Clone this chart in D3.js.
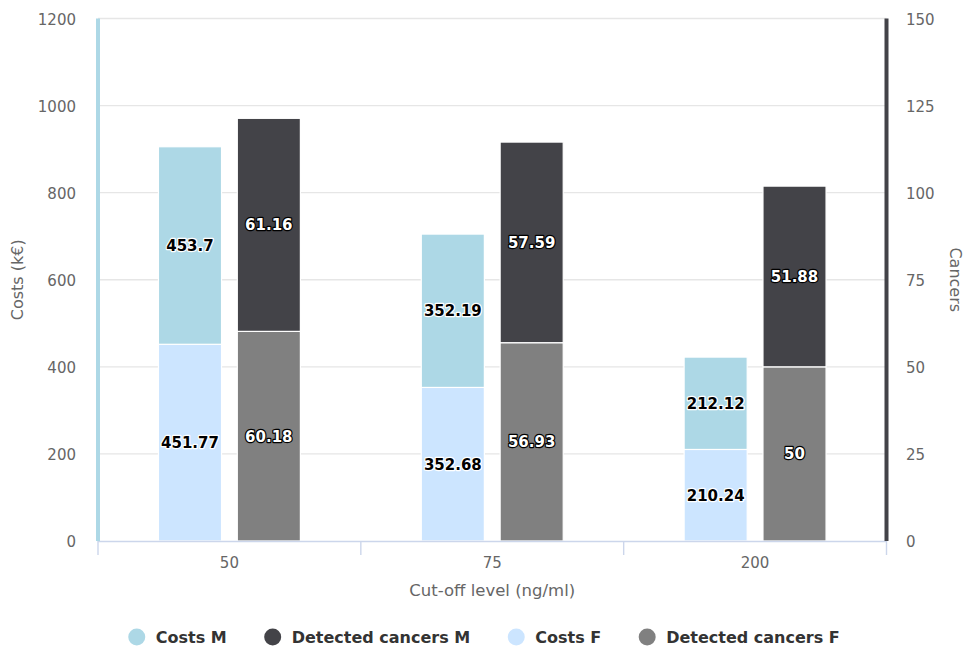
<!DOCTYPE html>
<html>
<head>
<meta charset="utf-8">
<script src="https://cdn.jsdelivr.net/npm/d3@7"></script>
<style>
  html, body { margin: 0; padding: 0; background: #fff; }
  svg { display: block; font-family: "DejaVu Sans", Verdana, sans-serif; }
</style>
</head>
<body>
<svg id="chart" width="965" height="646"></svg>
<script>
'use strict';

var categories = ['50', '75', '200'];
var costsM = [453.7, 352.19, 212.12];
var costsF = [451.77, 352.68, 210.24];
var cancersM = [61.16, 57.59, 51.88];
var cancersF = [60.18, 56.93, 50];
var costTicks = [0, 200, 400, 600, 800, 1000, 1200];
var cancerTicks = [0, 25, 50, 75, 100, 125, 150];

// series in legend order; stack = which column, axis = which y scale
var series = [
  {name: 'Costs M', data: costsM, stack: 'costs', color: '#add8e6', dark: false},
  {name: 'Detected cancers M', data: cancersM, stack: 'cancers', color: '#434348', dark: true},
  {name: 'Costs F', data: costsF, stack: 'costs', color: '#cce5ff', dark: false},
  {name: 'Detected cancers F', data: cancersF, stack: 'cancers', color: '#808080', dark: true}
];

var plot = {left: 98, right: 886.5, top: 18.5, bottom: 541};
var svg = d3.select('#chart');

var x0 = d3.scaleBand().domain(categories).range([plot.left, plot.right]);
var x1 = d3.scaleBand().domain(['costs', 'cancers'])
  .range([x0.bandwidth() * 0.2, x0.bandwidth() * 0.8])
  .paddingInner(0.2).paddingOuter(0.1);
var yCost = d3.scaleLinear().domain([0, 1200]).range([plot.bottom, plot.top]);
var yCancer = d3.scaleLinear().domain([0, 150]).range([plot.bottom, plot.top]);

// grid
svg.append('g').selectAll('line').data(costTicks.slice(1)).join('line')
  .attr('x1', plot.left).attr('x2', plot.right)
  .attr('y1', function (d) { return yCost(d); })
  .attr('y2', function (d) { return yCost(d); })
  .attr('stroke', '#e6e6e6').attr('stroke-width', 1.4);

// stacks: first series drawn on top (Highcharts order), so stack the reversed list
var stacked = [];
['costs', 'cancers'].forEach(function (key) {
  var list = series.filter(function (s) { return s.stack === key; }).reverse();
  var y = key === 'costs' ? yCost : yCancer;
  categories.forEach(function (cat, i) {
    var base = 0;
    list.forEach(function (s) {
      stacked.push({cat: cat, stack: key, y: y, y0: base, y1: base + s.data[i], s: s, v: s.data[i]});
      base += s.data[i];
    });
  });
});

var bars = svg.append('g');
bars.selectAll('rect').data(stacked).join('rect')
  .attr('x', function (d) { return x0(d.cat) + x1(d.stack); })
  .attr('width', x1.bandwidth())
  .attr('y', function (d) { return d.y(d.y1); })
  .attr('height', function (d) { return d.y(d.y0) - d.y(d.y1); })
  .attr('fill', function (d) { return d.s.color; })
  .attr('stroke', '#fff').attr('stroke-width', 1.2);

// data labels with contrast outline
bars.selectAll('text').data(stacked).join('text')
  .attr('x', function (d) { return x0(d.cat) + x1(d.stack) + x1.bandwidth() / 2; })
  .attr('y', function (d) { return (d.y(d.y0) + d.y(d.y1)) / 2 + 5.5; })
  .attr('text-anchor', 'middle')
  .attr('font-size', '15px').attr('font-weight', 'bold')
  .attr('fill', function (d) { return d.s.dark ? '#fff' : '#000'; })
  .attr('stroke', function (d) { return d.s.dark ? '#000' : '#fff'; })
  .attr('stroke-width', 2.4).attr('stroke-linejoin', 'round')
  .attr('paint-order', 'stroke')
  .text(function (d) { return d.v; });

// x axis
svg.append('line').attr('x1', plot.left).attr('x2', plot.right)
  .attr('y1', plot.bottom + 0.5).attr('y2', plot.bottom + 0.5)
  .attr('stroke', '#ccd6eb').attr('stroke-width', 1.4);
var xTicks = categories.map(function (c) { return x0(c); }).concat([plot.right]);
svg.append('g').selectAll('line').data(xTicks).join('line')
  .attr('x1', function (d) { return d; }).attr('x2', function (d) { return d; })
  .attr('y1', plot.bottom).attr('y2', plot.bottom + 14)
  .attr('stroke', '#ccd6eb').attr('stroke-width', 1.4);
svg.append('g').selectAll('text').data(categories).join('text')
  .attr('x', function (d) { return x0(d) + x0.bandwidth() / 2; })
  .attr('y', 568)
  .attr('text-anchor', 'middle').attr('font-size', '15px').attr('fill', '#666')
  .text(function (d) { return d; });
svg.append('text').attr('x', (plot.left + plot.right) / 2).attr('y', 596)
  .attr('text-anchor', 'middle').attr('font-size', '16.5px').attr('fill', '#666')
  .text('Cut-off level (ng/ml)');

// left y axis
svg.append('line').attr('x1', plot.left).attr('x2', plot.left)
  .attr('y1', plot.top).attr('y2', plot.bottom)
  .attr('stroke', '#add8e6').attr('stroke-width', 4);
svg.append('g').selectAll('text').data(costTicks).join('text')
  .attr('x', 76).attr('y', function (d) { return yCost(d) + 6; })
  .attr('text-anchor', 'end').attr('font-size', '15px').attr('fill', '#666')
  .text(function (d) { return d; });
svg.append('text')
  .attr('transform', 'translate(23,' + (plot.top + plot.bottom) / 2 + ') rotate(-90)')
  .attr('text-anchor', 'middle').attr('font-size', '16px').attr('fill', '#666')
  .text('Costs (k€)');

// right y axis
svg.append('line').attr('x1', plot.right).attr('x2', plot.right)
  .attr('y1', plot.top).attr('y2', plot.bottom)
  .attr('stroke', '#434348').attr('stroke-width', 4);
svg.append('g').selectAll('text').data(cancerTicks).join('text')
  .attr('x', 906).attr('y', function (d) { return yCancer(d) + 6; })
  .attr('text-anchor', 'start').attr('font-size', '15px').attr('fill', '#666')
  .text(function (d) { return d; });
svg.append('text')
  .attr('transform', 'translate(950,' + (plot.top + plot.bottom) / 2 + ') rotate(90)')
  .attr('text-anchor', 'middle').attr('font-size', '16px').attr('fill', '#666')
  .text('Cancers');

// legend, centred horizontally
var gap = 46;
var r = 8.5;
var legend = svg.append('g');
var items = legend.selectAll('g').data(series).join('g');
items.append('circle').attr('r', r).attr('cy', 0)
  .attr('fill', function (d) { return d.color; });
items.append('text').attr('x', 19).attr('y', 6)
  .attr('font-size', '16px').attr('font-weight', 'bold').attr('fill', '#333')
  .text(function (d) { return d.name; });
var pos = 0;
items.each(function () {
  var g = d3.select(this);
  g.attr('transform', 'translate(' + pos + ',0)');
  pos += 19 + g.select('text').node().getComputedTextLength() + gap;
});
var legendWidth = pos - gap + r;
legend.attr('transform', 'translate(' + ((965 - legendWidth) / 2 + r + 1.5) + ',637)');
</script>
</body>
</html>
